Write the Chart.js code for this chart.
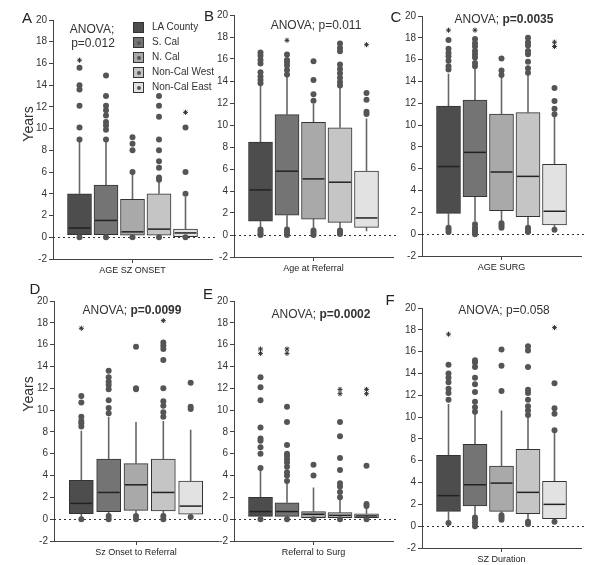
<!DOCTYPE html>
<html>
<head>
<meta charset="utf-8">
<script src="https://cdn.jsdelivr.net/npm/chart.js@4.4.1/dist/chart.umd.min.js"></script>
<style>
  body { margin: 0; background: #fff; font-family: 'Liberation Sans', Arial, sans-serif; }
  #fig { position: relative; width: 600px; height: 565px; overflow: hidden; }
  #fig canvas { position: absolute; }
  .txt { position: absolute; color: #333; white-space: nowrap; z-index: 5; }
  .anova { font-size: 12px; transform: translate(-50%, -50%); }
  .letter { font-size: 15px; color: #222; transform: translate(-50%, -50%); }
  .years { font-size: 14px; transform: translate(-50%, -50%) rotate(-90deg); }
  .leg { position: absolute; left: 133px; font-size: 10px; color: #333; z-index: 5; white-space: nowrap; }
  .leg span.sw { position: absolute; left: 0; width: 11px; height: 11px; border: 1px solid #333; box-sizing: border-box; }
  .leg span.sw i { position: absolute; left: 2.5px; top: 2.5px; width: 4px; height: 4px; border-radius: 50%; background: #555; }
  .leg span.lb { position: absolute; left: 19px; top: -1px; white-space: nowrap; }
</style>
</head>
<body>
<div id="fig"></div>
<script>
// Box plots of years by referral region, six measures (A-F)

const GROUPS = ['LA County', 'S. Cal', 'N. Cal', 'Non-Cal West', 'Non-Cal East'];
const BOX_COLORS = ['#4d4d4d', '#747474', '#a9a9a9', '#c5c5c5', '#e2e2e2'];
const Y_TICKS = [-2, 0, 2, 4, 6, 8, 10, 12, 14, 16, 18, 20];

// each box: [lower whisker, q1, median, q3, upper whisker]
const A_stats = [[0.1, 0.25, 0.85, 4.0, 9.0], [0.1, 0.25, 1.55, 4.8, 9.0], [0.1, 0.2, 0.5, 3.5, 6.0], [0.1, 0.2, 0.75, 4.0, 5.4], [0.0, 0.05, 0.4, 0.75, 3.7]];
const A_out = [[0, 9.0, 10.1, 12.1, 13.6, 14.0, 15.6], [0, 9.0, 9.9, 10.3, 10.6, 11.2, 11.7, 12.1, 13.0, 14.9], [0, 6.0, 8.0, 8.6, 9.2], [0, 5.3, 5.5, 6.4, 7.0, 8.0, 9.0, 11.1, 12.1, 13.0], [0, 4.0, 6.0, 10.1]];
const A_star = [[16.3], [], [], [], [11.5]];

const B_stats = [[0.5, 1.25, 4.1, 8.45, 13.6], [0.6, 1.8, 5.8, 10.95, 14.4], [0.5, 1.45, 5.1, 10.25, 11.9], [0.5, 1.15, 4.8, 9.75, 13.4], [0.35, 0.7, 1.55, 5.8, 10.6]];
const B_out = [[0, 0.1, 0.3, 0.5, 13.8, 14.1, 14.4, 14.8, 15.6, 15.9, 16.3, 16.6], [0, 0.1, 0.3, 0.5, 14.6, 15.0, 15.4, 15.7, 15.9, 16.4], [0, 0.2, 0.4, 12.2, 12.8, 14.1, 15.8], [0.1, 0.2, 0.4, 13.6, 13.9, 14.3, 14.7, 15.1, 15.5, 16.7, 17.0, 17.4], [11.0, 11.2, 12.3, 12.9]];
const B_star = [[], [17.7], [], [], [17.3]];

const C_stats = [[0.7, 1.9, 6.2, 11.75, 14.7], [1.2, 3.45, 7.5, 12.3, 15.2], [1.0, 2.15, 5.7, 11.0, 14.4], [0.8, 1.6, 5.3, 11.15, 14.6], [0.5, 0.85, 2.1, 6.4, 10.9]];
const C_out = [[0.2, 0.4, 0.6, 15.1, 15.4, 15.9, 16.3, 16.6, 17.0, 17.8], [0, 0.2, 0.4, 0.6, 0.9, 15.4, 15.7, 16.2, 16.5, 16.8, 17.2, 17.5, 17.9], [0.6, 0.8, 1.0, 14.6, 15.0, 16.1], [0.2, 0.4, 0.6, 14.8, 15.2, 15.8, 16.5, 16.8, 17.3, 17.6, 18.0], [0.4, 11.0, 11.5, 12.2, 13.4]];
const C_star = [[18.7], [18.7], [], [], [17.2, 17.6]];

const D_stats = [[0.2, 0.5, 1.45, 3.55, 8.1], [0.3, 0.7, 2.45, 5.5, 9.4], [0.3, 0.8, 3.15, 5.1, 8.9], [0.3, 0.75, 2.45, 5.5, 9.0], [0.2, 0.45, 1.2, 3.5, 8.2]];
const D_out = [[0, 8.5, 8.8, 9.0, 9.4, 10.7, 11.3], [0, 0.3, 9.7, 10.2, 10.9, 11.9, 12.3, 12.6, 13.0, 13.6], [0, 0.3, 11.9, 12.0, 15.8], [0, 0.3, 9.4, 9.8, 10.4, 10.8, 12.0, 14.6, 15.6, 15.9, 16.2], [0.2, 10.1, 10.3, 12.5]];
const D_star = [[17.5], [], [], [18.2], []];

const E_stats = [[0.1, 0.25, 0.7, 2.0, 4.5], [0.1, 0.25, 0.7, 1.5, 3.3], [0.05, 0.15, 0.45, 0.7, 2.9], [0.05, 0.15, 0.35, 0.6, 1.9], [0.05, 0.15, 0.3, 0.5, 1.1]];
const E_out = [[0, 4.7, 6.0, 6.6, 7.2, 7.4, 8.4, 10.9, 12.1, 13.0], [0, 3.5, 4.0, 4.3, 4.8, 5.2, 5.5, 5.8, 6.0, 6.8, 8.9, 10.3], [0, 4.0, 5.0], [0, 2.0, 2.5, 3.0, 3.3, 4.5, 5.6, 7.6, 8.9], [0, 1.2, 1.4, 4.9]];
const E_star = [[15.2, 15.6], [15.2, 15.6], [], [11.5, 11.9], [11.5, 11.9]];

const F_stats = [[0.5, 1.35, 2.8, 6.5, 11.2], [0.9, 1.85, 3.8, 7.5, 10.3], [1.1, 1.35, 3.95, 5.5, 10.6], [0.5, 1.15, 3.1, 7.05, 10.0], [0.45, 0.7, 2.0, 4.1, 8.6]];
const F_out = [[0.3, 11.6, 12.2, 12.6, 13.2, 13.6, 14.0, 14.8], [0, 0.3, 0.6, 0.8, 10.5, 10.9, 11.4, 12.3, 13.0, 13.6, 14.6, 15.0, 15.2], [0.6, 0.8, 1.0, 12.4, 14.7, 16.2], [0.2, 0.4, 10.2, 10.6, 11.0, 11.6, 12.2, 12.5, 14.6, 16.1, 16.5], [0.4, 8.8, 10.3, 10.8, 13.1]];
const F_star = [[17.6], [], [], [], [18.2]];

// panel layout: plot area edges in page pixels
const PANELS = [
  { title: 'AGE SZ ONSET', stats: A_stats, out: A_out, star: A_star, L: 53, R: 213, T: 20, B: 259 },
  { title: 'Age at Referral', stats: B_stats, out: B_out, star: B_star, L: 234, R: 394, T: 15, B: 257 },
  { title: 'AGE SURG', stats: C_stats, out: C_out, star: C_star, L: 422, R: 582, T: 16, B: 256 },
  { title: 'Sz Onset to Referral', stats: D_stats, out: D_out, star: D_star, L: 54, R: 219, T: 301, B: 541 },
  { title: 'Referral to Surg', stats: E_stats, out: E_out, star: E_star, L: 234, R: 394, T: 301, B: 541 },
  { title: 'SZ Duration', stats: F_stats, out: F_out, star: F_star, L: 422, R: 582, T: 308, B: 548 }
];

const Y_AXIS_W = 30;
const X_AXIS_H = 17;
const PAD_TOP = 8;
const PAD_RIGHT = 4;

// whiskers, zero reference line and medians
const boxPlugin = {
  id: 'boxPlugin',
  beforeDatasetsDraw(chart) {
    const { ctx, chartArea, scales: { x, y } } = chart;
    const stats = chart.options.plugins.boxPlugin.stats;
    ctx.save();
    ctx.strokeStyle = '#333';
    ctx.lineWidth = 1;
    ctx.setLineDash([2, 3]);
    const y0 = Math.round(y.getPixelForValue(0)) + 0.5;
    ctx.beginPath();
    ctx.moveTo(chartArea.left, y0);
    ctx.lineTo(chartArea.right + 4, y0);
    ctx.stroke();
    ctx.setLineDash([]);
    ctx.strokeStyle = '#666';
    ctx.lineWidth = 1.6;
    stats.forEach((s, i) => {
      const px = x.getPixelForValue(i + 1);
      ctx.beginPath();
      ctx.moveTo(px, y.getPixelForValue(s[0]));
      ctx.lineTo(px, y.getPixelForValue(s[1]));
      ctx.moveTo(px, y.getPixelForValue(s[3]));
      ctx.lineTo(px, y.getPixelForValue(s[4]));
      ctx.stroke();
    });
    ctx.restore();
  },
  afterDatasetsDraw(chart) {
    const { ctx, scales: { y } } = chart;
    const stats = chart.options.plugins.boxPlugin.stats;
    ctx.save();
    ctx.strokeStyle = '#222';
    ctx.lineWidth = 1.5;
    stats.forEach((s, i) => {
      const bar = chart.getDatasetMeta(i).data[0];
      const half = bar.width / 2;
      const py = y.getPixelForValue(s[2]);
      ctx.beginPath();
      ctx.moveTo(bar.x - half + 1, py);
      ctx.lineTo(bar.x + half - 1, py);
      ctx.stroke();
    });
    ctx.restore();
  }
};

function buildPanel(p) {
  const canvas = document.createElement('canvas');
  const w = (p.R - p.L) + Y_AXIS_W + PAD_RIGHT;
  const h = (p.B - p.T) + PAD_TOP + X_AXIS_H;
  canvas.width = w;
  canvas.height = h;
  canvas.style.left = (p.L - Y_AXIS_W) + 'px';
  canvas.style.top = (p.T - PAD_TOP) + 'px';
  canvas.style.width = w + 'px';
  canvas.style.height = h + 'px';
  document.getElementById('fig').appendChild(canvas);

  const datasets = GROUPS.map((g, i) => ({
    type: 'bar',
    label: g,
    data: [{ x: i + 1, y: [p.stats[i][1], p.stats[i][3]] }],
    backgroundColor: BOX_COLORS[i],
    borderColor: '#333',
    borderWidth: 1,
    borderSkipped: false,
    barThickness: 24,
    grouped: false,
    order: 3
  }));

  datasets.push({
    type: 'scatter',
    label: 'outliers',
    data: p.out.flatMap((vals, i) => vals.map((v) => ({ x: i + 1, y: v }))),
    pointRadius: 3,
    backgroundColor: '#555',
    borderWidth: 0,
    order: 2
  });

  datasets.push({
    type: 'scatter',
    label: 'extremes',
    data: p.star.flatMap((vals, i) => vals.map((v) => ({ x: i + 1, y: v }))),
    pointStyle: 'star',
    pointRadius: 2.5,
    borderColor: '#333',
    borderWidth: 1,
    order: 1
  });

  new Chart(canvas, {
    type: 'bar',
    data: { datasets },
    plugins: [boxPlugin],
    options: {
      responsive: false,
      animation: false,
      events: [],
      layout: { padding: { top: PAD_TOP, right: PAD_RIGHT, bottom: 0, left: 0 } },
      plugins: {
        legend: { display: false },
        tooltip: { enabled: false },
        boxPlugin: { stats: p.stats }
      },
      scales: {
        x: {
          type: 'linear',
          min: 0,
          max: 6,
          offset: false,
          afterBuildTicks: (scale) => { scale.ticks = [{ value: 3 }]; },
          afterFit: (scale) => { scale.height = X_AXIS_H; },
          ticks: { display: false },
          grid: { drawOnChartArea: false, drawTicks: true, tickLength: 4, color: '#444', offset: false },
          border: { display: true, color: '#444', width: 1 },
          title: {
            display: true,
            text: p.title,
            font: { family: "'Liberation Sans', Arial, sans-serif", size: 9 },
            color: '#222',
            padding: { top: 0, bottom: 0 }
          }
        },
        y: {
          type: 'linear',
          min: -2,
          max: 20,
          afterBuildTicks: (scale) => { scale.ticks = Y_TICKS.map((v) => ({ value: v })); },
          afterFit: (scale) => { scale.width = Y_AXIS_W; },
          ticks: {
            font: { family: "'Liberation Sans', Arial, sans-serif", size: 10 },
            color: '#333',
            padding: 2
          },
          grid: { drawOnChartArea: false, drawTicks: true, tickLength: 4, color: '#444' },
          border: { display: true, color: '#444', width: 1 }
        }
      }
    }
  });
}

PANELS.forEach(buildPanel);

// text overlays: panel letters, ANOVA results, y titles, legend
const fig = document.getElementById('fig');
function addText(cls, html, x, y) {
  const d = document.createElement('div');
  d.className = 'txt ' + cls;
  d.innerHTML = html;
  d.style.left = x + 'px';
  d.style.top = y + 'px';
  fig.appendChild(d);
}

const LETTERS = [['A', 27, 17], ['B', 209, 15], ['C', 396, 16], ['D', 35, 288], ['E', 208, 293], ['F', 390, 299]];
LETTERS.forEach(([t, x, y]) => addText('letter', t, x, y));

addText('anova', 'ANOVA;', 92, 29);
addText('anova', 'p=0.012', 93, 43);
addText('anova', 'ANOVA; p=0.011', 316, 25);
addText('anova', 'ANOVA; <b>p=0.0035</b>', 504, 19);
addText('anova', 'ANOVA; <b>p=0.0099</b>', 132, 310);
addText('anova', 'ANOVA; <b>p=0.0002</b>', 321, 314);
addText('anova', 'ANOVA; p=0.058', 504, 310);

addText('years', 'Years', 28, 124);
addText('years', 'Years', 28, 394);

GROUPS.forEach((g, i) => {
  const d = document.createElement('div');
  d.className = 'leg';
  d.style.top = (22 + i * 15) + 'px';
  d.innerHTML = '<span class="sw" style="background:' + BOX_COLORS[i] + '">' + (i > 0 ? '<i></i>' : '') +
    '</span><span class="lb">' + g + '</span>';
  fig.appendChild(d);
});
</script>
</body>
</html>
